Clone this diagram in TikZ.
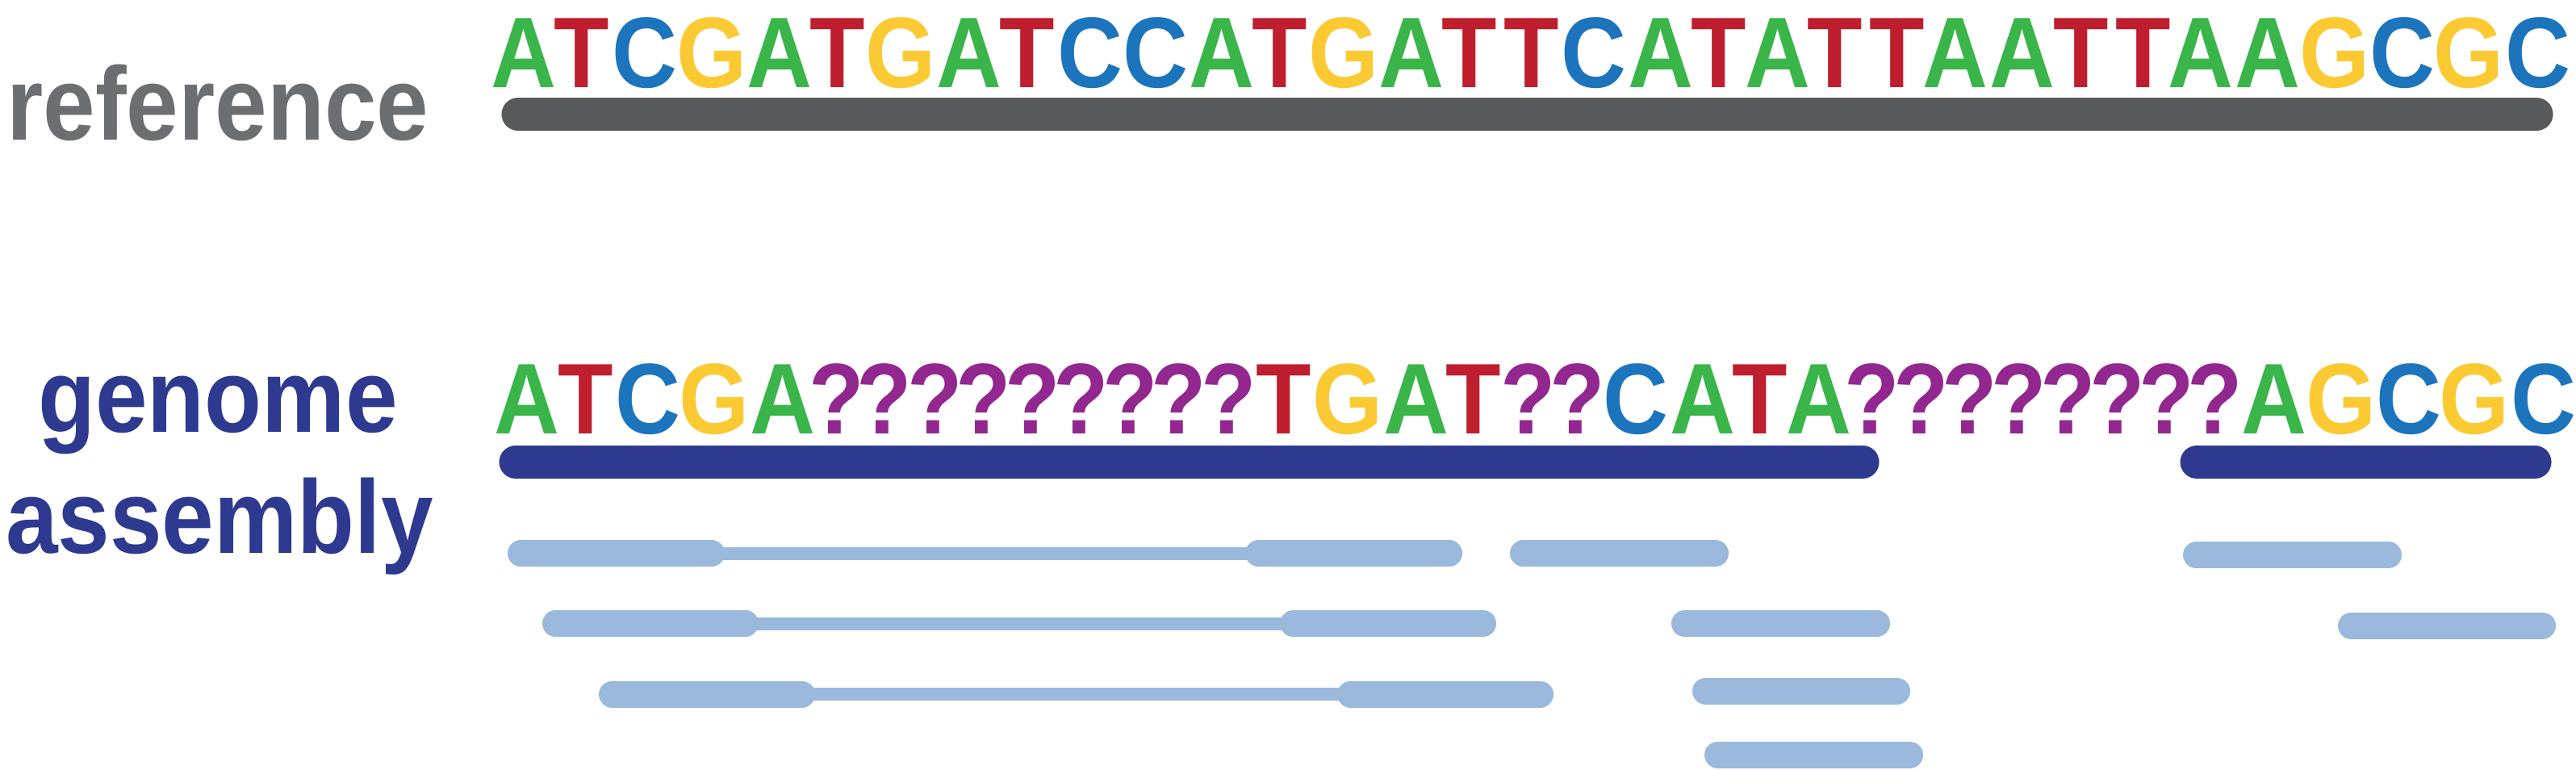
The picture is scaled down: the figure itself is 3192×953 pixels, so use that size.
\documentclass[tikz,border=0pt]{standalone}
\usepackage{fontspec}
\usepackage{graphicx}
\newfontfamily\medfont{Liberation Sans Bold}
\newcommand\nucfont{\medfont\fontsize{35.4pt}{40pt}\selectfont}
\newcommand\lblfont{\medfont\fontsize{36.7pt}{40pt}\selectfont}
\newcommand\nucchar[1]{\scalebox{0.9}[1]{\if Q#1?\else#1\fi}}
\newcommand\sq[1]{\scalebox{0.9}[1]{#1}}
\definecolor{cA}{HTML}{39B54A}
\definecolor{cT}{HTML}{BE1E2D}
\definecolor{cC}{HTML}{1C75BC}
\definecolor{cG}{HTML}{FBC932}
\definecolor{cQ}{HTML}{92278F}
\definecolor{lblGray}{HTML}{6D6E71}
\definecolor{barGray}{HTML}{58595B}
\definecolor{navy}{HTML}{2E3990}
\definecolor{lightblue}{HTML}{9AB9DC}
\begin{document}
\begin{tikzpicture}[x=0.01cm,y=-0.01cm,
  nuc/.style={anchor=base,inner sep=0pt,font=\nucfont},
  nA/.style={nuc,text=cA},
  nT/.style={nuc,text=cT},
  nC/.style={nuc,text=cC},
  nG/.style={nuc,text=cG},
  nQ/.style={nuc,text=cQ},
  lbl/.style={anchor=base,inner sep=0pt,font=\lblfont},
  refbar/.style={line width=0.41cm,line cap=round,draw=barGray},
  asmbar/.style={line width=0.41cm,line cap=round,draw=navy},
  readbar/.style={line width=0.33cm,line cap=round,draw=lightblue},
  readlink/.style={line width=0.16cm,draw=lightblue}]
\useasboundingbox (0,0) rectangle (3192,953);
% labels
\node[lbl,text=lblGray] (lref) at (270,173) {\sq{reference}};
\node[lbl,text=navy] (lgen) at (270,535) {\sq{genome}};
\node[lbl,text=navy] (lasm) at (272,685) {\sq{assembly}};
% reference sequence
\foreach \x/\c [count=\i] in {649/A,721/T,799/C,882/G,966/A,1038/T,1116/G,1201/A,1273/T,1351/C,1432/C,1514/A,1586/T,1665/G,1749/A,1821/T,1898/T,1975/C,2058/A,2130/T,2203/A,2274/T,2351/T,2423/A,2506/A,2579/T,2656/T,2727/A,2810/A,2893/G,2977/C,3059/G,3145/C}
  \node[n\c] (r\i) at (\x,108) {\nucchar{\c}};
% genome assembly sequence
\foreach \x/\c [count=\i] in {653/A,726/T,803/C,885/G,970/A,1037/Q,1096/Q,1159/Q,1219/Q,1280/Q,1340/Q,1401/Q,1461/Q,1523/Q,1591/T,1670/G,1755/A,1826/T,1894/Q,1955/Q,2027/C,2110/A,2181/T,2254/A,2320/Q,2381/Q,2441/Q,2502/Q,2563/Q,2624/Q,2685/Q,2745/Q,2818/A,2901/G,2985/C,3066/G,3152/C}
  \node[n\c] (g\i) at (\x,537) {\nucchar{\c}};
% reference bar
\draw[refbar] (642,141.5) -- (3143,141.5);
% assembly contigs
\draw[asmbar] (639,572.5) -- (2308,572.5);
\draw[asmbar] (2722,572.5) -- (3141,572.5);
% paired reads
\draw[readlink] (881.5,685.5) -- (1559.5,685.5);
\draw[readbar] (645.5,685.5) -- (881.5,685.5);
\draw[readbar] (1559.5,685.5) -- (1795.5,685.5);
\draw[readlink] (923.5,772.5) -- (1602.5,772.5);
\draw[readbar] (688.5,772.5) -- (923.5,772.5);
\draw[readbar] (1602.5,772.5) -- (1837.5,772.5);
\draw[readlink] (993.5,860) -- (1673.5,860);
\draw[readbar] (758.5,860) -- (993.5,860);
\draw[readbar] (1673.5,860) -- (1908.5,860);
% single reads
\draw[readbar] (1887.5,685.5) -- (2125.5,685.5);
\draw[readbar] (2087.5,772.5) -- (2325.5,772.5);
\draw[readbar] (2113.5,856) -- (2350.5,856);
\draw[readbar] (2128.5,935) -- (2366.5,935);
\draw[readbar] (2721.5,687.5) -- (2959.5,687.5);
\draw[readbar] (2913.5,775) -- (3150.5,775);
\end{tikzpicture}
\end{document}
